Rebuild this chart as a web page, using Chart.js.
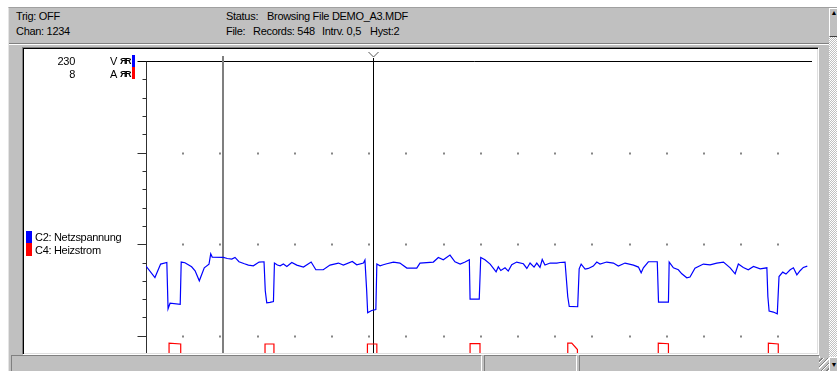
<!DOCTYPE html>
<html lang="de">
<head>
    <meta charset="UTF-8">
    <title>DEMO_A3.MDF</title>
    <script src="https://cdn.jsdelivr.net/npm/chart.js"></script>
    <style>
        body { margin: 0; width: 837px; height: 371px; overflow: hidden; background: #fff; position: relative;
               font-family: "Liberation Sans", Arial, sans-serif; font-size: 11px; letter-spacing: -0.3px; color: #000; }
        .abs { position: absolute; white-space: nowrap; line-height: 13px; }
        #win { left: 8px; top: 7px; width: 840px; height: 370px; background: #c0c0c0;
               border-top: 1px solid #a0a0a0; border-left: 1px solid #e4e4e4; }
        #panel { left: 22px; top: 47px; width: 797px; height: 308px; box-sizing: border-box; background: #fff;
                 border: 1px solid; border-color: #808080 #fff #fff #808080;
                 box-shadow: inset 1px 1px 0 #000, inset -1px -1px 0 #dfdfdf; }
        #scope { position: absolute; left: 24px; top: 49px; }
        .sb { top: 355px; height: 20px; box-sizing: border-box; border: 1px solid; border-color: #808080 #fff #fff #808080; }
        .chk { background: repeating-conic-gradient(#c0c0c0 0 25%, #fff 0 50%) 0 0 / 2px 2px; }
        .btn { background: #c0c0c0; box-sizing: border-box; border: 1px solid; border-color: #fff #404040 #404040 #fff;
               font-size: 7px; line-height: 8px; text-align: center; letter-spacing: 0; }
        .rr { font-size: 9px; font-weight: bold; letter-spacing: -1.5px; }
    </style>
</head>
<body>
    <div id="win" class="abs"></div>
    <div class="abs" style="left:9px;top:43px;width:822px;height:1px;background:#808080"></div>
    <div class="abs" style="left:9px;top:44px;width:822px;height:1px;background:#fff"></div>

    <!-- header -->
    <div class="abs" style="left:16px;top:10px">Trig: OFF</div>
    <div class="abs" style="left:16px;top:25px">Chan: 1234</div>
    <div class="abs" style="left:226px;top:10px">Status:</div>
    <div class="abs" style="left:267px;top:10px">Browsing File DEMO_A3.MDF</div>
    <div class="abs" style="left:226px;top:25px">File:</div>
    <div class="abs" style="left:253px;top:25px">Records: 548</div>
    <div class="abs" style="left:322px;top:25px">Intrv. 0,5</div>
    <div class="abs" style="left:370px;top:25px">Hyst:2</div>

    <div id="panel" class="abs"></div>
    <canvas id="scope" width="793" height="304"></canvas>

    <!-- channel scale + legend -->
    <div class="abs" style="left:35px;top:55px;width:40px;text-align:right">230</div>
    <div class="abs" style="left:35px;top:68px;width:40px;text-align:right">8</div>
    <div class="abs" style="left:110px;top:55px">V</div>
    <div class="abs" style="left:110px;top:68px">A</div>
    <div class="abs rr" style="left:120px;top:55px">ЯR</div>
    <div class="abs rr" style="left:120px;top:68px">ЯR</div>
    <div class="abs" style="left:132px;top:55px;width:3px;height:12px;background:#0000ff"></div>
    <div class="abs" style="left:132px;top:67px;width:3px;height:12px;background:#ff0000"></div>

    <div class="abs" style="left:26px;top:231px;width:6px;height:12px;background:#0000ff"></div>
    <div class="abs" style="left:26px;top:243px;width:6px;height:13px;background:#ff0000"></div>
    <div class="abs" style="left:35px;top:231px">C2: Netzspannung</div>
    <div class="abs" style="left:35px;top:244px">C4: Heizstrom</div>

    <!-- status bar and scroll bar -->
    <div class="abs sb" style="left:11px;width:471px"></div>
    <div class="abs sb" style="left:484px;width:93px"></div>
    <div class="abs sb" style="left:579px;width:241px"></div>
    <div class="abs chk" style="left:829px;top:37px;width:8px;height:320px"></div>
    <div class="abs btn" style="left:829px;top:8px;width:10px;height:29px">▲</div>
    <div class="abs btn" style="left:829px;top:357px;width:10px;height:16px;padding-top:3px">▼</div>
    <div class="abs" style="left:819px;top:358px;width:10px;height:13px;
         background:repeating-linear-gradient(135deg,#c0c0c0 0 2px,#808080 2px 3px,#fff 3px 4px)"></div>

    <script>
        // C2: Netzspannung (blue) - time in s, value in divisions
        const blueTime = [0, 3.6, 5.9, 8.4, 8.9, 9.7, 13.8, 14.2, 15.7, 18.4, 19.8, 21.5, 23.5, 25.4, 26.1, 26.7,
            31.2, 32.8, 34.6, 35.9, 37.5, 39.7, 41.3, 43.3, 45.6, 47.6, 48.1, 48.7, 50.0, 51.4, 51.8, 53.0,
            54.1, 55.4, 56.8, 58.8, 60.8, 63.5, 66.6, 68.5, 71.5, 74.2, 77.6, 79.6, 83.2, 85.0, 87.7, 88.3,
            89.0, 89.4, 91.0, 92.7, 93.1, 94.4, 95.7, 97.1, 99.8, 102.4, 105.2, 109.2, 110.5, 115.9, 117.9, 119.9,
            122.6, 124.6, 126.7, 128.7, 130.4, 130.7, 134.4, 135.0, 136.7, 138.8, 141.2, 142.1, 143.1, 144.8, 146.1, 147.5,
            149.5, 152.2, 153.6, 154.9, 156.5, 157.6, 158.9, 159.8, 160.9, 163.0, 165.7, 167.0, 169.0, 170.1, 170.7, 174.1,
            174.7, 175.5, 177.1, 178.4, 180.4, 181.8, 183.1, 185.8, 188.5, 190.5, 193.2, 196.6, 198.6, 199.7, 200.6, 202.6,
            206.2, 206.7, 210.7, 211.0, 212.7, 214.7, 216.1, 218.1, 219.4, 221.4, 224.8, 227.5, 230.2, 232.9, 235.6, 237.6,
            238.9, 240.9, 242.9, 245.0, 247.7, 250.4, 250.8, 251.3, 253.0, 254.6, 255.3, 256.8, 258.1, 259.8, 261.1, 262.5,
            263.8, 265.1, 266.7];
        const blueVolt = [0.761, 0.636, 0.783, 0.800, 0.295, 0.355, 0.344, 0.805, 0.797, 0.753, 0.710, 0.600, 0.742, 0.781, 0.895, 0.859,
            0.855, 0.844, 0.837, 0.855, 0.808, 0.786, 0.772, 0.764, 0.805, 0.808, 0.491, 0.360, 0.364, 0.374, 0.794, 0.772,
            0.764, 0.783, 0.757, 0.800, 0.772, 0.750, 0.805, 0.721, 0.721, 0.772, 0.794, 0.772, 0.811, 0.775, 0.794, 0.826,
            0.491, 0.251, 0.276, 0.287, 0.783, 0.764, 0.775, 0.786, 0.805, 0.794, 0.739, 0.739, 0.794, 0.805, 0.855, 0.830,
            0.881, 0.808, 0.783, 0.805, 0.830, 0.401, 0.401, 0.855, 0.830, 0.783, 0.699, 0.753, 0.713, 0.742, 0.706, 0.775,
            0.805, 0.786, 0.735, 0.794, 0.750, 0.794, 0.746, 0.833, 0.772, 0.794, 0.794, 0.800, 0.805, 0.426, 0.320, 0.317,
            0.731, 0.783, 0.728, 0.735, 0.761, 0.805, 0.783, 0.805, 0.794, 0.761, 0.794, 0.772, 0.750, 0.688, 0.742, 0.808,
            0.808, 0.368, 0.368, 0.805, 0.742, 0.721, 0.677, 0.633, 0.641, 0.739, 0.783, 0.775, 0.794, 0.805, 0.742, 0.677,
            0.783, 0.746, 0.721, 0.757, 0.731, 0.742, 0.429, 0.270, 0.259, 0.240, 0.647, 0.695, 0.674, 0.721, 0.742, 0.666,
            0.710, 0.746, 0.761];

        // C4: Heizstrom (red) - off level sits below the visible window
        const redTime = [0, 9.3, 9.3, 14.0, 14.0, 48.0, 48.0, 51.6, 51.6, 89.3, 89.3, 93.1, 93.1, 130.7, 130.7, 134.7,
            134.7, 170.1, 170.1, 171.7, 174.0, 174.0, 206.6, 206.6, 210.7, 210.7, 251.0, 251.0, 255.0, 255.0, 268.6];
        const redAmp = [-0.3, -0.3, -0.08, -0.09, -0.3, -0.3, -0.09, -0.09, -0.3, -0.3, -0.09, -0.09, -0.3, -0.3, -0.085, -0.085,
            -0.3, -0.3, -0.08, -0.08, -0.15, -0.3, -0.3, -0.08, -0.087, -0.3, -0.3, -0.08, -0.09, -0.3, -0.3];

        const cursorTimes = [31.2, 91.7];   // [gray cursor, Y cursor]
        const secPerDiv = 15;
        const xMax = 268.6;
        const yMax = 3;
        const yMin = -0.188;

        function toPoints(xs, ys) {
            return xs.map((t, i) => ({ x: t, y: ys[i] }));
        }

        const scopeGrid = {
            id: 'scopeGrid',
            beforeDatasetsDraw(chart) {
                const { ctx, chartArea } = chart;
                const x = chart.scales.x, y = chart.scales.y;
                const left = Math.round(chartArea.left) + 0.5;
                const top = Math.round(y.getPixelForValue(yMax)) + 0.5;
                ctx.save();
                ctx.lineWidth = 1;

                // top border + y axis
                ctx.strokeStyle = '#000';
                ctx.beginPath();
                ctx.moveTo(left - 9, top);
                ctx.lineTo(chartArea.right, top);
                ctx.stroke();
                ctx.strokeStyle = '#303030';
                ctx.beginPath();
                ctx.moveTo(left, top);
                ctx.lineTo(left, chartArea.bottom);
                ctx.stroke();

                // ticks every 0.2 div, dotted grid rows every full div
                for (let k = 1; yMax - k * 0.2 >= yMin; k++) {
                    const py = Math.round(y.getPixelForValue(yMax - k * 0.2)) + 0.5;
                    const major = k % 5 === 0;
                    ctx.strokeStyle = '#303030';
                    ctx.beginPath();
                    ctx.moveTo(left - (major ? 9 : 4), py);
                    ctx.lineTo(left, py);
                    ctx.stroke();
                    if (major) {
                        ctx.fillStyle = '#858585';
                        for (let t = secPerDiv; t < xMax; t += secPerDiv) {
                            const px = Math.round(x.getPixelForValue(t));
                            ctx.fillRect(px - 1, py - 1, 2, 2);
                        }
                    }
                }

                // cursors
                const g = Math.round(x.getPixelForValue(cursorTimes[0]));
                ctx.fillStyle = '#7f7f7f';
                ctx.fillRect(g - 1, chartArea.top - 5, 2, chartArea.bottom - chartArea.top + 5);
                const c = Math.round(x.getPixelForValue(cursorTimes[1]));
                ctx.fillStyle = '#000';
                ctx.fillRect(c, chartArea.top - 3, 1, chartArea.bottom - chartArea.top + 3);
                ctx.strokeStyle = '#555';
                ctx.beginPath();
                ctx.moveTo(c - 4.5, chartArea.top - 9);
                ctx.lineTo(c + 0.5, chartArea.top - 4);
                ctx.lineTo(c + 5.5, chartArea.top - 9);
                ctx.stroke();
                ctx.restore();
            }
        };

        const ctx = document.getElementById('scope').getContext('2d');
        new Chart(ctx, {
            type: 'line',
            data: {
                datasets: [{
                    label: 'C2: Netzspannung',
                    data: toPoints(blueTime, blueVolt),
                    borderColor: '#0000ff',
                    borderWidth: 1.2
                }, {
                    label: 'C4: Heizstrom',
                    data: toPoints(redTime, redAmp),
                    borderColor: '#ff0000',
                    borderWidth: 1.2
                }]
            },
            options: {
                responsive: false,
                animation: false,
                events: [],
                layout: { padding: { left: 122, right: 5, top: 12, bottom: 0 } },
                plugins: { legend: { display: false }, tooltip: { enabled: false } },
                elements: { point: { radius: 0 }, line: { tension: 0 } },
                scales: {
                    x: { type: 'linear', min: 0, max: xMax, display: false },
                    y: { min: yMin, max: yMax, display: false }
                }
            },
            plugins: [scopeGrid]
        });
    </script>
</body>
</html>
